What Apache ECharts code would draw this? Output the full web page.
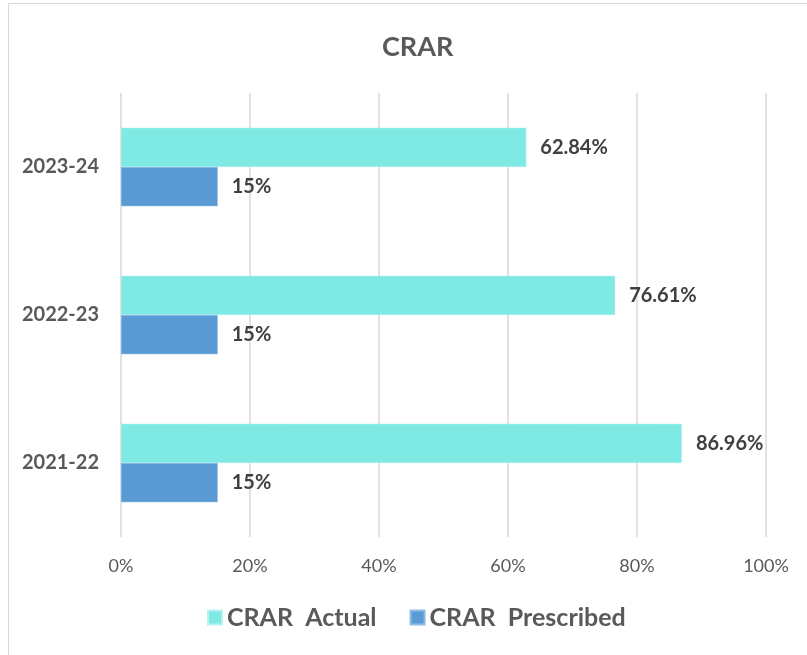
<!DOCTYPE html>
<html>
<head>
<meta charset="utf-8">
<script src="https://cdn.jsdelivr.net/npm/echarts@6/dist/echarts.min.js"></script>
<style>
  html, body { margin: 0; padding: 0; background: #fff; }
  #main { width: 807px; height: 655px; }
</style>
</head>
<body>
<div id="main"></div>
<script>
  // data
  const years = ['2021-22', '2022-23', '2023-24'];
  const crarActual = [86.96, 76.61, 62.84];
  const crarPrescribed = [15, 15, 15];
  const xTicks = [0, 20, 40, 60, 80, 100];

  const myChart = echarts.init(document.getElementById('main'));

  const labelStyle = {
    show: true,
    position: 'right',
    distance: 14,
    fontFamily: 'Lato',
    fontWeight: 'bold',
    fontSize: 20,
    color: '#404040'
  };

  const option = {
    backgroundColor: '#fff',
    textStyle: { fontFamily: 'Lato', color: '#595959' },
    graphic: [{
      type: 'rect',
      shape: { x: 8.5, y: 3.5, width: 820, height: 670 },
      style: { fill: 'none', stroke: '#d9d9d9', lineWidth: 1 },
      silent: true
    }],
    title: {
      text: 'CRAR',
      left: 377,
      top: 29,
      textStyle: { fontFamily: 'Lato', fontSize: 27, fontWeight: 'bold', color: '#595959' }
    },
    legend: {
      bottom: 20,
      left: 202,
      itemWidth: 14,
      itemHeight: 14,
      itemGap: 33,
      icon: 'rect',
      data: ['CRAR  Actual', 'CRAR  Prescribed'],
      textStyle: { fontFamily: 'Lato', fontSize: 25, fontWeight: 'bold', color: '#595959' }
    },
    grid: { left: 121, right: 41, top: 93, bottom: 118, containLabel: false },
    xAxis: {
      type: 'value',
      min: 0,
      max: 100,
      interval: 20,
      axisLine: { show: false },
      axisTick: { show: false },
      splitLine: { show: true, lineStyle: { color: '#d9d9d9', width: 1.5 } },
      axisLabel: {
        margin: 20,
        fontFamily: 'Lato',
        fontSize: 18,
        color: '#595959',
        formatter: function (v) { return xTicks.indexOf(v) >= 0 ? v + '%' : ''; }
      }
    },
    yAxis: {
      type: 'category',
      data: years,
      axisLine: { show: false },
      axisTick: { show: false },
      axisLabel: {
        margin: 22,
        fontFamily: 'Lato',
        fontSize: 20,
        fontWeight: 'bold',
        color: '#595959'
      }
    },
    series: [
      {
        name: 'CRAR  Actual',
        type: 'bar',
        data: crarActual,
        barGap: '0%',
        barCategoryGap: '47%',
        itemStyle: { color: '#7fe9e3', borderColor: '#b5f3ef', borderWidth: 0.5 },
        label: Object.assign({}, labelStyle, { formatter: function (p) { return p.value.toFixed(2) + '%'; } })
      },
      {
        name: 'CRAR  Prescribed',
        type: 'bar',
        data: crarPrescribed,
        barGap: '0%',
        barCategoryGap: '47%',
        itemStyle: { color: '#5b9bd5', borderColor: '#8fbce6', borderWidth: 0.5 },
        label: Object.assign({}, labelStyle, { formatter: function (p) { return p.value + '%'; } })
      }
    ]
  };

  myChart.setOption(option);
</script>
</body>
</html>
